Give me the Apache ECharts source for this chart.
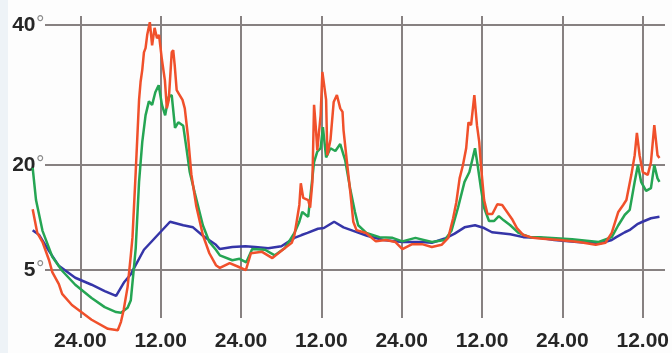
<!DOCTYPE html>
<html>
<head>
<meta charset="utf-8">
<script src="https://cdn.jsdelivr.net/npm/echarts@6/dist/echarts.min.js"></script>
<style>
html,body{margin:0;padding:0;background:#fdfdfd;}
#c{width:672px;height:353px;}
</style>
</head>
<body>
<div id="c"></div>
<script>
// Time in hours from chart start; gridlines every 12 h, labels alternate 24.00 / 12.00
var xTickLabels = ['24.00', '12.00'];
var yTickValues = [5, 20, 40];

var redHours = [4.88,5.57,6.35,7.33,7.81,8.79,9.28,10.74,13.68,16.12,17.59,18.07,18.47,19.06,19.54,19.79,20.27,20.77,21.0,21.25,21.5,21.74,21.99,22.38,22.72,23.09,23.45,23.75,24.19,24.63,24.92,25.21,25.65,25.87,26.09,26.39,26.83,27.26,27.6,28.1,28.58,29.32,30.3,31.27,32.25,32.84,34.3,35.77,36.72,37.48,39.14,40.68,42.51,43.58,43.98,44.31,44.71,44.93,45.29,46.03,46.32,46.66,46.91,47.2,47.39,47.89,48.15,48.37,48.71,48.89,49.36,49.84,50.32,50.82,51.16,51.31,51.79,52.29,52.77,53.25,54.68,56.14,57.61,59.07,60.1,61.57,63.03,64.5,65.96,66.95,67.68,68.16,68.65,69.15,69.63,69.97,70.36,70.85,71.24,71.58,71.83,72.31,72.81,73.54,74.28,75.01,75.74,76.47,77.21,78.17,79.6,80.62,83.55,86.48,88.98,90.44,91.37,92.35,93.08,93.56,94.3,94.8,95.13,95.53,96.01,96.75,97.23,97.73,98.21,98.5];
var redTemps = [13.7,10.3,9.0,6.4,4.7,3.0,1.6,0.0,-2.1,-3.4,-3.6,-2.4,-0.7,2.6,7.1,9.7,19.0,29.3,31.9,33.6,36.1,36.7,38.6,40.4,37.1,39.6,38.1,38.6,35.0,32.1,28.1,29.3,36.1,36.4,34.3,30.7,30.0,29.3,28.1,23.9,18.7,14.1,10.0,7.4,5.7,5.3,6.0,5.4,5.0,7.4,7.6,6.7,8.1,8.9,10.0,11.9,14.3,17.4,15.3,15.0,13.9,17.6,28.6,25.0,22.1,27.1,33.3,33.1,29.3,21.4,23.6,29.0,30.0,28.1,27.6,25.0,20.7,16.4,11.9,10.7,10.3,9.1,9.3,9.0,8.0,8.7,8.7,8.3,8.6,9.6,12.4,14.7,18.1,20.0,22.4,26.1,25.7,30.0,25.7,23.3,20.0,15.0,13.0,13.0,14.4,14.3,13.3,12.3,11.0,10.0,9.6,9.5,9.3,9.0,8.6,8.9,10.3,13.3,14.3,15.0,18.6,21.4,24.6,21.4,19.0,18.6,20.4,25.7,21.4,21.0];

var greenHours = [4.88,5.38,6.35,7.81,9.28,11.24,13.68,15.64,17.34,18.07,19.06,19.54,20.04,20.27,20.77,21.25,21.74,22.24,22.72,23.2,23.7,24.19,24.67,25.17,25.65,26.14,26.63,27.37,27.85,28.34,29.07,30.3,31.27,32.25,32.84,34.7,35.77,36.79,37.67,39.58,41.04,42.51,43.98,44.71,45.15,46.03,46.32,46.91,47.39,47.89,48.23,48.71,49.36,50.09,50.82,51.55,52.29,53.02,53.5,54.72,56.68,58.63,60.1,62.05,64.5,66.45,67.43,68.41,69.38,70.11,70.61,70.95,71.34,71.83,72.31,73.04,73.78,74.51,75.24,76.22,77.44,79.16,80.62,85.46,89.42,91.37,92.35,93.33,94.06,94.8,95.28,95.76,96.5,97.23,97.73,98.21,98.5];
var greenTemps = [19.6,15.0,10.6,6.9,4.9,2.9,1.0,-0.3,-1.0,-1.1,-0.4,0.7,5.7,8.1,17.6,23.3,27.1,29.1,28.6,30.4,31.4,28.6,27.1,29.7,30.0,25.3,26.1,25.6,22.4,19.0,16.1,11.4,9.0,7.9,7.1,6.4,6.6,6.1,8.0,7.9,7.1,8.1,10.3,11.9,13.3,12.6,12.4,20.4,21.9,22.4,25.4,21.1,22.4,22.0,23.0,20.7,16.7,13.3,11.4,10.3,9.7,9.6,9.1,9.6,9.0,9.3,10.6,13.9,17.6,19.0,21.0,22.4,20.0,16.7,13.9,12.0,12.0,12.7,12.1,11.4,10.3,9.7,9.7,9.4,9.0,9.7,11.4,12.9,13.6,17.6,20.0,17.6,16.3,16.7,20.0,18.1,17.6];

var blueHours = [4.88,5.86,7.33,8.79,11.24,13.68,15.64,17.34,17.59,18.57,19.54,20.04,21.5,23.45,25.4,27.37,28.83,30.3,32.25,32.84,34.7,36.65,38.11,40.06,42.03,43.98,45.05,45.93,47.49,48.37,49.91,51.31,52.77,54.82,57.27,60.1,63.03,64.5,66.45,67.91,69.38,70.95,72.31,73.48,76.22,78.17,80.62,82.78,86.19,89.56,91.37,92.05,93.33,94.01,95.28,95.97,97.23,98.5];
var blueTemps = [10.7,10.0,7.7,5.6,3.9,2.9,2.0,1.3,1.4,3.3,4.4,5.3,7.9,9.9,11.9,11.4,11.1,9.9,8.6,8.0,8.3,8.4,8.3,8.1,8.4,9.6,10.0,10.3,10.9,11.0,11.9,11.1,10.6,9.9,9.3,9.0,9.0,8.9,9.5,10.2,11.1,11.4,11.0,10.4,10.1,9.7,9.6,9.3,9.0,8.8,9.3,9.7,10.4,10.7,11.6,11.9,12.4,12.6];

function zip(h, v) { return h.map(function (t, i) { return [t, v[i]]; }); }

var X_MIN = 0, X_MAX = 98.5, Y_MIN = -1.85, Y_MAX = 41.29;
var gridColor = '#878181';
var vColors = [];
for (var i = 0; i < 10; i++) vColors.push(i === 0 || i === 9 ? 'rgba(0,0,0,0)' : gridColor);

var chart = echarts.init(document.getElementById('c'), null, {renderer: 'canvas'});
chart.setOption({
  backgroundColor: '#fdfdfd',
  animation: false,
  graphic: [{type: 'rect', left: 0, top: 0, shape: {width: 8, height: 353}, style: {fill: '#eef3f7'}, z: -10}],
  grid: [
    {left: 0, right: 0, top: 16, bottom: 35},
    {left: 45, right: 7, top: 16, bottom: 35}
  ],
  xAxis: [
    {
      type: 'value', gridIndex: 0, min: X_MIN, max: X_MAX, interval: 12,
      axisLine: {show: false}, axisTick: {show: false},
      splitLine: {show: true, lineStyle: {color: vColors, width: 2}},
      axisLabel: {
        showMinLabel: false, showMaxLabel: false, margin: 13,
        fontFamily: 'Liberation Sans, Arial, sans-serif', fontWeight: 'bold', fontSize: 21, color: '#262626',
        formatter: function (v) { var k = Math.round(v / 12); return (k % 2 === 1) ? xTickLabels[0] : xTickLabels[1]; }
      }
    },
    {type: 'value', gridIndex: 1, min: X_MIN, max: X_MAX, show: false}
  ],
  yAxis: [
    {type: 'value', gridIndex: 0, min: Y_MIN, max: Y_MAX, show: false, splitLine: {show: false}},
    {
      type: 'value', gridIndex: 1, min: Y_MIN, max: Y_MAX,
      axisLine: {show: false},
      axisTick: {show: false, customValues: yTickValues},
      splitLine: {show: true, lineStyle: {color: gridColor, width: 2}},
      axisLabel: {
        customValues: yTickValues, margin: 0,
        formatter: function (v) { return '{n|' + v + '}{d|°}'; },
        rich: {
          n: {fontFamily: 'Liberation Sans, Arial, sans-serif', fontWeight: 'bold', fontSize: 21, color: '#262626'},
          d: {fontFamily: 'DejaVu Sans, sans-serif', fontSize: 19, color: '#8c8c8c'}
        }
      }
    }
  ],
  series: [
    {name: 'blue', type: 'line', clip: false, xAxisIndex: 0, yAxisIndex: 0, data: zip(blueHours, blueTemps), showSymbol: false, lineStyle: {color: '#3535a8', width: 2.5}, z: 3},
    {name: 'green', type: 'line', clip: false, xAxisIndex: 0, yAxisIndex: 0, data: zip(greenHours, greenTemps), showSymbol: false, lineStyle: {color: '#25a553', width: 2.5}, z: 4},
    {name: 'red', type: 'line', clip: false, xAxisIndex: 0, yAxisIndex: 0, data: zip(redHours, redTemps), showSymbol: false, lineStyle: {color: '#f0502b', width: 2.5}, z: 5}
  ]
});
</script>
</body>
</html>
